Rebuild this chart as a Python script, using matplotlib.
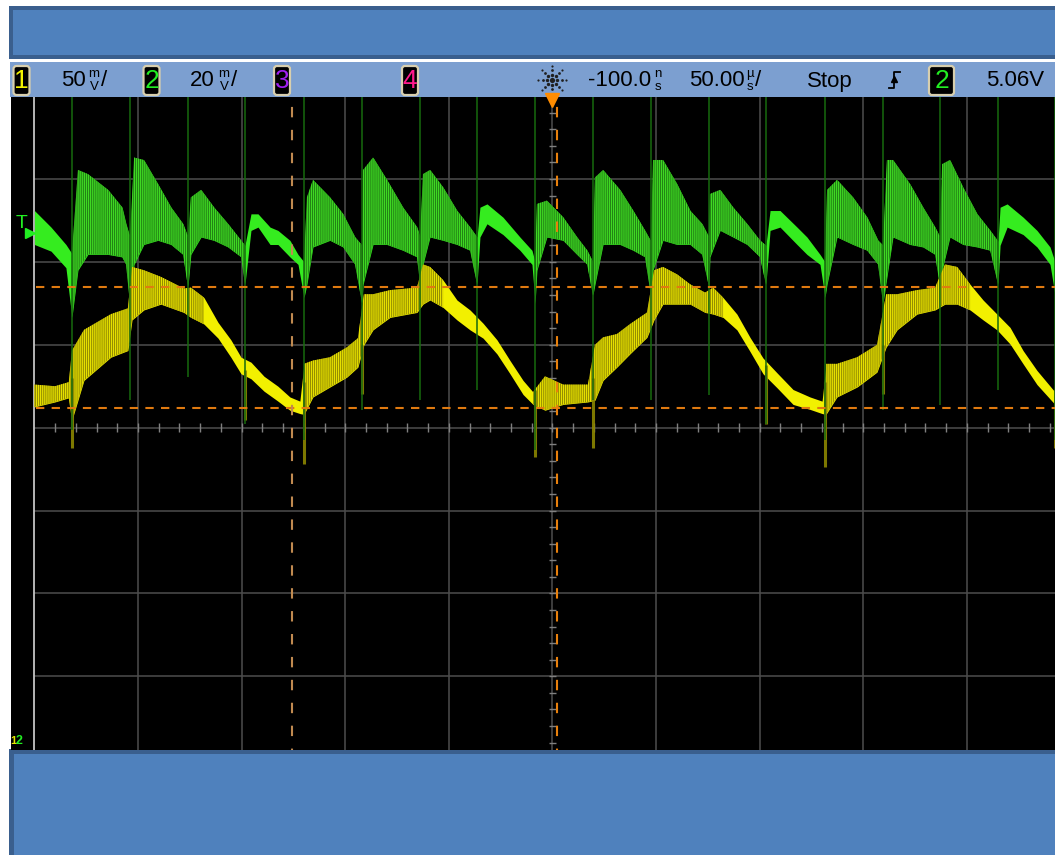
import numpy as np
import matplotlib.pyplot as plt
from matplotlib.patches import Rectangle, FancyBboxPatch

plt.rcParams['font.family'] = ['Liberation Sans', 'DejaVu Sans']
plt.rcParams['hatch.linewidth'] = 0.9

W, H = 1055, 855

# time base: 50 us/div, levels in screen divisions (8 div tall)
t_left, t_right = -261.3, 242.5
y_bottom, y_top = -3.89, 3.99
grid_t = [-200, -150, -100, -50, 0, 50, 100, 150, 200]
grid_y = [-3, -2, -1, 0, 1, 2, 3]

# channel 1 (yellow) band: upper / lower edge of the trace
ch1_t = [-250.0, -240.1, -233.4, -231.9, -226.1, -213.1, -204.9, -202.9, -197.2, -189.0,
         -177.9, -174.5, -168.2, -161.4, -155.2, -150.3, -145.5, -139.2, -132.5, -126.7,
         -121.9, -119.9, -115.6, -107.4, -99.2, -93.9, -91.0, -86.6, -78.4, -65.4,
         -62.5, -59.1, -52.8, -46.1, -39.8, -33.5, -26.8, -20.5, -14.2, -9.4,
         -3.6, 5.1, 17.1, 20.5, 24.4, 31.1, 37.4, 45.6, 49.0, 53.3,
         60.1, 66.4, 73.6, 77.5, 82.3, 89.0, 95.3, 101.6, 108.4, 116.1,
         124.3, 130.1, 132.0, 137.3, 147.0, 156.6, 161.0, 166.3, 175.9, 184.6,
         189.4, 195.2, 201.5, 207.8, 214.5, 220.8, 227.1, 233.8, 242.5]
ch1_hi = [0.52, 0.50, 0.55, 0.93, 1.18, 1.37, 1.44, 1.94, 1.90, 1.82,
          1.68, 1.69, 1.57, 1.27, 1.06, 0.85, 0.79, 0.62, 0.50, 0.37,
          0.32, 0.77, 0.81, 0.85, 0.97, 1.08, 1.61, 1.61, 1.66, 1.69,
          1.97, 1.94, 1.78, 1.54, 1.42, 1.26, 1.06, 0.81, 0.57, 0.43,
          0.62, 0.52, 0.52, 1.00, 1.09, 1.13, 1.25, 1.39, 1.90, 1.94,
          1.85, 1.73, 1.63, 1.69, 1.57, 1.37, 1.09, 0.84, 0.66, 0.46,
          0.37, 0.32, 0.77, 0.77, 0.85, 1.00, 1.61, 1.61, 1.66, 1.69,
          1.97, 1.94, 1.73, 1.54, 1.37, 1.21, 0.93, 0.69, 0.43]
ch1_lo = [0.25, 0.31, 0.36, 0.09, 0.57, 0.85, 0.93, 1.30, 1.42, 1.49,
          1.39, 1.33, 1.25, 1.08, 0.85, 0.65, 0.59, 0.44, 0.32, 0.21,
          0.17, 0.16, 0.37, 0.49, 0.61, 0.73, 1.00, 1.18, 1.33, 1.39,
          1.49, 1.54, 1.45, 1.30, 1.18, 1.08, 0.89, 0.65, 0.40, 0.28,
          0.21, 0.28, 0.31, 0.33, 0.57, 0.73, 0.89, 1.09, 1.30, 1.49,
          1.49, 1.49, 1.39, 1.37, 1.33, 1.18, 0.92, 0.65, 0.48, 0.28,
          0.22, 0.17, 0.16, 0.37, 0.49, 0.67, 0.97, 1.18, 1.37, 1.42,
          1.49, 1.49, 1.42, 1.30, 1.18, 1.01, 0.77, 0.52, 0.28]
ch1_noisy = [(-250.0, -233.4), (-231.9, -168.2), (-119.9, -52.8), (-9.4, 82.3), (131.5, 201.5)]
ch1_spike_t = [-231.9, -148.4, -119.9, -91.9, -8.4, 19.5, 103.0, 131.5, 159.5, 242.5]
ch1_spike_lo = [-0.24, 0.09, -0.44, 0.40, -0.36, -0.24, 0.04, -0.48, 0.40, -0.24]
ch1_spike_hi = [0.60, 0.70, 0.55, 1.00, 0.45, 0.60, 0.75, 0.55, 1.00, 0.45]

# channel 2 (green) band, one row per switching interval
ch2_t = [-250.0, -242.0, -234.8, -231.9,
         -229.0, -224.2, -214.5, -207.7, -205.8, -203.9,
         -201.9, -197.2, -190.4, -184.1, -178.3, -175.9,
         -174.5, -169.6, -163.4, -156.6, -150.3, -148.4,
         -145.5, -142.1, -136.3, -132.5, -126.7, -122.8, -119.9,
         -118.5, -115.6, -107.4, -101.1, -95.3, -91.9,
         -91.4, -86.6, -79.9, -72.2, -65.4, -63.9,
         -62.5, -59.1, -52.8, -46.1, -39.8, -36.4,
         -35.0, -31.6, -23.9, -15.7, -9.9, -8.4,
         -7.5, -2.7, 5.1, 11.8, 16.7, 19.5,
         20.5, 24.4, 32.6, 38.9, 44.6, 47.5,
         48.5, 53.3, 60.1, 66.4, 72.2, 75.5,
         76.0, 80.9, 87.1, 93.9, 100.1, 103.0,
         105.0, 109.8, 118.0, 122.8, 129.1, 131.5,
         132.5, 137.3, 145.0, 151.8, 157.1, 159.5,
         161.4, 164.3, 172.5, 178.8, 184.6, 187.0,
         188.0, 191.8, 198.1, 204.9, 211.2, 215.0,
         216.0, 219.4, 227.1, 233.8, 240.1, 242.5]
ch2_hi = [2.62, 2.42, 2.21, 2.10,
          3.11, 3.06, 2.87, 2.66, 2.46, 2.30,
          3.26, 3.23, 2.94, 2.66, 2.46, 2.30,
          2.78, 2.87, 2.66, 2.46, 2.26, 2.20,
          2.58, 2.58, 2.42, 2.38, 2.26, 2.09, 2.00,
          2.78, 2.99, 2.78, 2.58, 2.30, 2.20,
          3.11, 3.26, 2.99, 2.66, 2.42, 2.30,
          3.06, 3.11, 2.90, 2.62, 2.42, 2.30,
          2.66, 2.70, 2.54, 2.30, 2.14, 2.00,
          2.70, 2.74, 2.54, 2.30, 2.14, 2.00,
          3.02, 3.11, 2.87, 2.62, 2.38, 2.25,
          3.23, 3.23, 2.94, 2.62, 2.46, 2.30,
          2.82, 2.87, 2.66, 2.46, 2.26, 2.20,
          2.62, 2.62, 2.42, 2.30, 2.09, 2.00,
          2.87, 2.99, 2.78, 2.54, 2.26, 2.20,
          3.23, 3.23, 2.94, 2.66, 2.42, 2.30,
          3.18, 3.23, 2.90, 2.58, 2.38, 2.25,
          2.66, 2.70, 2.54, 2.38, 2.18, 2.00]
ch2_lo = [2.21, 2.13, 1.93, 1.33,
          1.90, 2.09, 2.09, 2.06, 1.97, 1.50,
          1.97, 2.21, 2.26, 2.21, 2.09, 1.70,
          2.09, 2.30, 2.26, 2.18, 2.06, 1.73,
          2.38, 2.42, 2.21, 2.21, 2.06, 1.97, 1.57,
          1.73, 2.18, 2.26, 2.18, 1.97, 1.50,
          1.73, 2.21, 2.21, 2.14, 2.06, 1.73,
          1.97, 2.30, 2.26, 2.21, 2.14, 1.73,
          2.30, 2.46, 2.33, 2.14, 1.97, 1.50,
          1.90, 2.30, 2.26, 2.09, 1.97, 1.60,
          1.73, 2.21, 2.21, 2.14, 2.06, 1.60,
          1.90, 2.26, 2.21, 2.21, 2.09, 1.70,
          2.06, 2.38, 2.30, 2.21, 2.06, 1.73,
          2.38, 2.42, 2.21, 2.09, 1.97, 1.57,
          1.73, 2.30, 2.21, 2.14, 1.97, 1.50,
          1.82, 2.30, 2.21, 2.18, 2.09, 1.70,
          1.90, 2.30, 2.21, 2.18, 2.14, 1.73,
          2.20, 2.42, 2.33, 2.18, 1.97, 1.60]
ch2_noisy = [(-231.9, -148.4), (-119.9, -36.4), (-8.4, 103.0), (131.5, 215.0)]
ch2_spike_t = [-231.9, -203.9, -175.9, -148.4, -119.9, -91.9, -63.9, -36.4, -8.4,
               19.5, 47.5, 75.5, 103.0, 131.5, 159.5, 187.0, 215.0, 242.5]
ch2_spike_floor = [-0.03, 0.33, 0.61, 0.04, -0.15, 0.21, 0.33, 0.45, -0.27,
                   0.33, 0.33, 0.39, 0.04, -0.15, 0.21, 0.27, 0.45, -0.15]

# cursors
cursor_t = [-125.7, 2.2]
cursor_y = [1.70, 0.24]

# status line
ch_scale = ['50', '20']
delay_text = '-100.0'
timebase_text = '50.00'
run_state = 'Stop'
trig_level = '5.06V'


def span_mask(t, spans):
    t = np.asarray(t)
    m = np.zeros(t.shape, dtype=bool)
    for a, b in spans:
        m |= (t >= a) & (t <= b)
    return m


def draw_trace(ax, t, hi, lo, spans, bright, dark, hatch_col, z):
    ax.fill_between(t, lo, hi, color=bright, lw=0, zorder=z)
    ax.fill_between(t, lo, hi, where=span_mask(t, spans), facecolor=dark,
                    edgecolor=hatch_col, hatch='||||||||', lw=0, zorder=z + 0.1)


fig = plt.figure(figsize=(W / 100, H / 100), dpi=100, facecolor='white')

# frame, panels and status strip in pixel units
bg = fig.add_axes([0, 0, 1, 1], zorder=0)
bg.set_xlim(0, W)
bg.set_ylim(H, 0)
bg.axis('off')

PANEL, PANEL_EDGE, STRIP = '#4f81bd', '#3a5f8e', '#7c9fd0'
bg.add_patch(Rectangle((9, 6), W - 9, 53, fc=PANEL_EDGE, ec='none'))
bg.add_patch(Rectangle((13, 10), W - 13, 45, fc=PANEL, ec='none'))
bg.add_patch(Rectangle((10, 62), W - 10, 35, fc=STRIP, ec='none'))
bg.add_patch(Rectangle((9, 749), W - 9, H - 749, fc=PANEL_EDGE, ec='none'))
bg.add_patch(Rectangle((14, 754), W - 14, H - 754, fc=PANEL, ec='none'))
bg.add_patch(Rectangle((11, 97), W - 11, 652, fc='black', ec='none'))


def chan_box(x0, w, label, col):
    bg.add_patch(FancyBboxPatch((x0, 66), w, 29, boxstyle='round,pad=0,rounding_size=3',
                                fc='black', ec='#d8cfae', lw=1.6))
    bg.text(x0 + w / 2, 81, label, color=col, fontsize=19, ha='center', va='center')


def unit(x, top, bottom):
    bg.text(x, 74, top, fontsize=9.5, ha='center', va='center', color='black')
    bg.text(x, 87, bottom, fontsize=9.5, ha='center', va='center', color='black')


txt = dict(fontsize=16, va='center', color='black')
chan_box(13.5, 16, '1', '#f4f400')
bg.text(61, 81, ch_scale[0], **txt)
unit(94, 'm', 'V')
bg.text(101, 81, '/', **txt)
chan_box(143.5, 16, '2', '#22ee22')
bg.text(190, 81, ch_scale[1], **txt)
unit(224, 'm', 'V')
bg.text(231, 81, '/', **txt)
chan_box(274, 16, '3', '#a020f0')
chan_box(402, 16, '4', '#ff1a8c')

# acquisition sparkle
ang = np.linspace(0, 2 * np.pi, 8, endpoint=False)
for r, s in [(5, 6), (9.5, 4), (14, 2.5)]:
    bg.scatter(552 + r * np.cos(ang), 80 + r * np.sin(ang), s=s, color='#202020', lw=0)
bg.scatter([552], [80], s=14, color='#202020', lw=0)

bg.text(588, 81, delay_text, **txt)
unit(657.5, 'n', 's')
bg.text(689, 81, timebase_text, **txt)
unit(749.5, 'µ', 's')
bg.text(755, 81, '/', **txt)
bg.text(807, 81, run_state, **txt)
# rising-edge trigger glyph
bg.plot([889, 894, 894, 900], [88, 88, 72, 72], color='black', lw=1.3)
bg.plot([894], [79], marker='^', ms=5, color='black')
chan_box(929, 25, '2', '#22ee22')
bg.text(986, 81, trig_level, **txt)

# scope screen
ax = fig.add_axes([11 / W, 1 - 750 / H, (W - 11) / W, 653 / H], zorder=1)
ax.set_facecolor('black')
ax.set_xlim(t_left, t_right)
ax.set_ylim(y_bottom, y_top)
ax.set_xticks([])
ax.set_yticks([])
for s in ax.spines.values():
    s.set_visible(False)

GRID = '#4d4d4d'
ax.vlines(grid_t, -4, 4, color=GRID, lw=1.1, zorder=1)
ax.hlines(grid_y, -250, 250, color=GRID, lw=1.1, zorder=1)
ax.vlines([-250], -4, 4, color='#c4c4c4', lw=1.3, zorder=1)
# minor ticks on the centre axes
ax.vlines(np.arange(-240, 250, 10), -0.05, 0.05, color='#808080', lw=1, zorder=1)
ax.hlines(np.arange(-3.8, 4.0, 0.2), -1.5, 1.5, color='#808080', lw=1, zorder=1)

draw_trace(ax, ch2_t, ch2_hi, ch2_lo, ch2_noisy, '#35ec1f', '#1d7412', '#3fd823', 3)
draw_trace(ax, ch1_t, ch1_hi, ch1_lo, ch1_noisy, '#f2f000', '#857e00', '#e6e000', 3)

ax.vlines(ch1_spike_t, ch1_spike_lo, ch1_spike_hi, color='#8c8600', lw=2.2, alpha=0.9, zorder=4)
ax.vlines(ch2_spike_t, ch2_spike_floor, 4.0, color='#176a0e', lw=1.3, alpha=0.85, zorder=4)

ax.hlines(cursor_y, -249, t_right, color='#e07a10', lw=1.5, linestyles=(0, (4, 3.5)), zorder=5)
ax.vlines(cursor_t[0], -4, 4, color='#c08a50', lw=1.5, linestyles=(0, (5, 6)), zorder=5)
ax.vlines(cursor_t[1], -4, 4, color='#e8800c', lw=1.5, linestyles=(0, (5, 6)), zorder=5)

# markers that sit on the screen edge
fg = fig.add_axes([0, 0, 1, 1], zorder=2)
fg.set_xlim(0, W)
fg.set_ylim(H, 0)
fg.axis('off')
fg.patch.set_alpha(0)
fg.plot([552], [100], marker='v', ms=10, color='#ff8c00', mec='#ff8c00')
fg.text(22, 223, 'T', color='#22ee22', fontsize=14, ha='center', va='center')
fg.plot([29.5], [233], marker='>', ms=7, color='#22ee22')
fg.text(13, 741, '1', color='#e8e800', fontsize=8, fontweight='bold', ha='center', va='center')
fg.text(19.5, 741, '2', color='#22ee22', fontsize=9, fontweight='bold', ha='center', va='center')

fig.savefig('out.png', dpi=100, facecolor='white')
